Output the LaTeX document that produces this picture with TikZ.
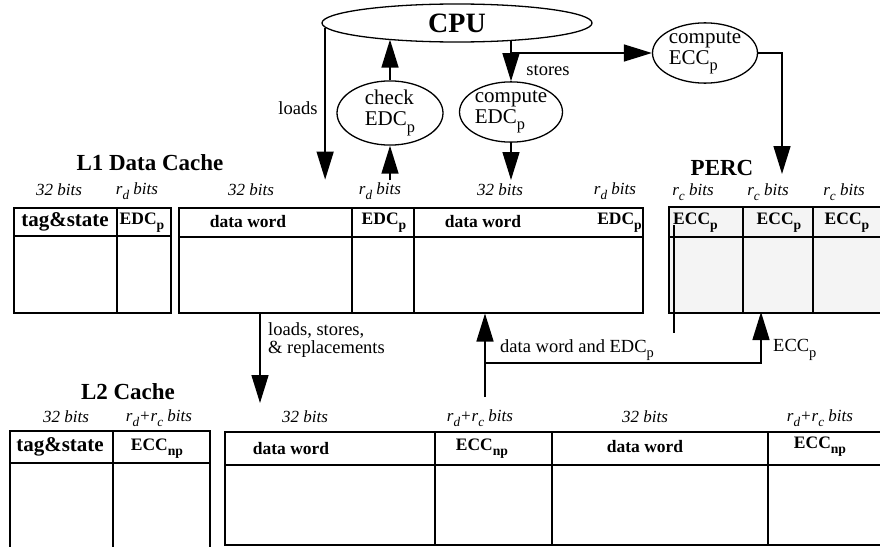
\documentclass[tikz,border=0pt]{standalone}
\usepackage{fontspec}
\setmainfont{Liberation Serif}
\usetikzlibrary{arrows.meta,shapes.geometric}
\newcommand{\myfs}[1]{\fontsize{#1}{#1}\selectfont}
\newcommand{\subx}[1]{\raisebox{-0.3em}{\scalebox{0.78}{#1}}}
\definecolor{percfill}{RGB}{244,244,244}
\begin{document}
\begin{tikzpicture}[x=1pt,y=-1pt,
 ln/.style={line width=1.5pt},
 arr/.style={ln,-{Triangle[length=28pt,width=17pt]}},
 tbl/.style={draw,line width=1.5pt,rectangle,inner sep=0pt,anchor=north west},
 ell/.style={draw,line width=1.3pt,ellipse,inner sep=0pt,align=left,font=\myfs{21}},
 bits/.style={inner sep=0pt,font=\myfs{17}\itshape},
 hdr/.style={inner sep=0pt,font=\myfs{17.5}\bfseries},
 tagst/.style={inner sep=0pt,font=\myfs{21}\bfseries},
 ttl/.style={inner sep=0pt,font=\myfs{23}\bfseries},
 lbl/.style={inner sep=0pt,font=\myfs{18.5},align=left},
]
\useasboundingbox (0,0) rectangle (880,546);
\clip (0,0) rectangle (880,546);

% ---------- ellipses ----------
\node[ell, minimum width=270, minimum height=38, font=\myfs{28}\bfseries] (cpu) at (457,23) {CPU};
\node[ell, minimum width=106, minimum height=62] (chk) at (390,113) {check\\EDC\subx{p}};
\node[ell, minimum width=103, minimum height=60] (cedc) at (511,112) {compute\\EDC\subx{p}};
\node[ell, minimum width=105, minimum height=58] (cecc) at (705,53) {compute\\ECC\subx{p}};

% ---------- L1 data cache ----------
\node[ttl] (l1title) at (150,163) {L1 Data Cache};
\node[tbl, minimum width=157, minimum height=105] (l1t) at (13,207) {};
\draw[ln] (117,207) -- (117,312);
\draw[ln] (13,236) -- (170,236);
\node[tbl, minimum width=464, minimum height=105] (l1d) at (178,207) {};
\draw[ln] (352,207) -- (352,312);
\draw[ln] (414,207) -- (414,312);
\draw[ln] (178,237) -- (642,237);

\node[bits] (b1) at (59,190) {32 bits};
\node[bits] (b2) at (137,191) {r\subx{d} bits};
\node[bits] (b3) at (251,190) {32 bits};
\node[bits] (b4) at (380,191) {r\subx{d} bits};
\node[bits] (b5) at (500,190) {32 bits};
\node[bits] (b6) at (615,191) {r\subx{d} bits};

\node[tagst] (h1) at (65,222) {tag\&state};
\node[hdr] (h2) at (142,223) {EDC\subx{p}};
\node[hdr] (h3) at (248,222) {data word};
\node[hdr] (h4) at (384,223) {EDC\subx{p}};
\node[hdr] (h5) at (483,222) {data word};
\node[hdr, anchor=east] (h6) at (642,223) {EDC\subx{p}};

% ---------- PERC ----------
\node[ttl] (perctitle) at (722,168) {PERC};
\node[tbl, fill=percfill, minimum width=240, minimum height=106] (perc) at (668,206) {};
\draw[ln] (743,206) -- (743,312);
\draw[ln] (813,206) -- (813,312);
\draw[ln] (668,237) -- (908,237);
\node[bits] (pb1) at (693,192) {r\subx{c} bits};
\node[bits] (pb2) at (768,192) {r\subx{c} bits};
\node[bits] (pb3) at (844,192) {r\subx{c} bits};
\node[hdr, anchor=west] (ph1) at (673,223) {ECC\subx{p}};
\node[hdr] (ph2) at (779,223) {ECC\subx{p}};
\node[hdr] (ph3) at (847,223) {ECC\subx{p}};
\draw[ln] (674,225) -- (674,333);

% ---------- L2 cache ----------
\node[ttl] (l2title) at (128,392) {L2 Cache};
\node[tbl, minimum width=200, minimum height=140] (l2t) at (9,430) {};
\draw[ln] (113,430) -- (113,570);
\draw[ln] (9,463) -- (209,463);
\node[tbl, minimum width=690, minimum height=113] (l2d) at (224,431) {};
\draw[ln] (435,431) -- (435,544);
\draw[ln] (552,431) -- (552,544);
\draw[ln] (768,431) -- (768,544);
\draw[ln] (224,465) -- (914,465);

\node[bits] (lb1) at (66,417) {32 bits};
\node[bits] (lb2) at (159,418) {r\subx{d}+r\subx{c} bits};
\node[bits] (lb3) at (305,417) {32 bits};
\node[bits] (lb4) at (480,418) {r\subx{d}+r\subx{c} bits};
\node[bits] (lb5) at (645,417) {32 bits};
\node[bits] (lb6) at (820,418) {r\subx{d}+r\subx{c} bits};

\node[tagst] (lh1) at (60,447) {tag\&state};
\node[hdr] (lh2) at (157,449) {ECC\subx{np}};
\node[hdr] (lh3) at (291,449) {data word};
\node[hdr] (lh4) at (482,449) {ECC\subx{np}};
\node[hdr] (lh5) at (645,447) {data word};
\node[hdr] (lh6) at (820,447) {ECC\subx{np}};

% ---------- connectors ----------
\draw[arr] (cpu.182.5) -- ++(0,152);
\node[lbl] (loadslbl) at (298,108) {loads};

\coordinate (chkin) at (390,180);
\draw[arr] (chkin) -- (chk.south);
\draw[arr] (chk.north) -- (chk.north |- cpu.193.8);

\draw[arr] (cedc.north |- cpu.342) -- (cedc.north);
\draw[arr] (cedc.north |- cecc.west) -- (cecc.west);
\node[lbl] (storeslbl) at (548,70) {stores};
\coordinate (cedcout) at (511,180);
\draw[arr] (cedc.south) -- (cedcout);

\coordinate (perctip) at (782,174);
\draw[arr] (cecc.east) -| (perctip);

\coordinate (lsrtip) at (260,403);
\draw[arr] (lsrtip |- l1d.south) -- (lsrtip);
\node[lbl, anchor=west] (lsrlbl) at (268,340) {loads, stores,\\\& replacements};

\coordinate (dwsrc) at (485,397);
\coordinate (junc) at (485,363);
\coordinate (ecctip) at (761,312);
\draw[arr] (dwsrc) -- (dwsrc |- l1d.south);
\draw[arr] (junc) -| (ecctip);
\node[lbl, anchor=west] (dwlbl) at (500,350) {data word and EDC\subx{p}};
\node[lbl, anchor=west] (ecclbl) at (773,350) {ECC\subx{p}};
\end{tikzpicture}
\end{document}
